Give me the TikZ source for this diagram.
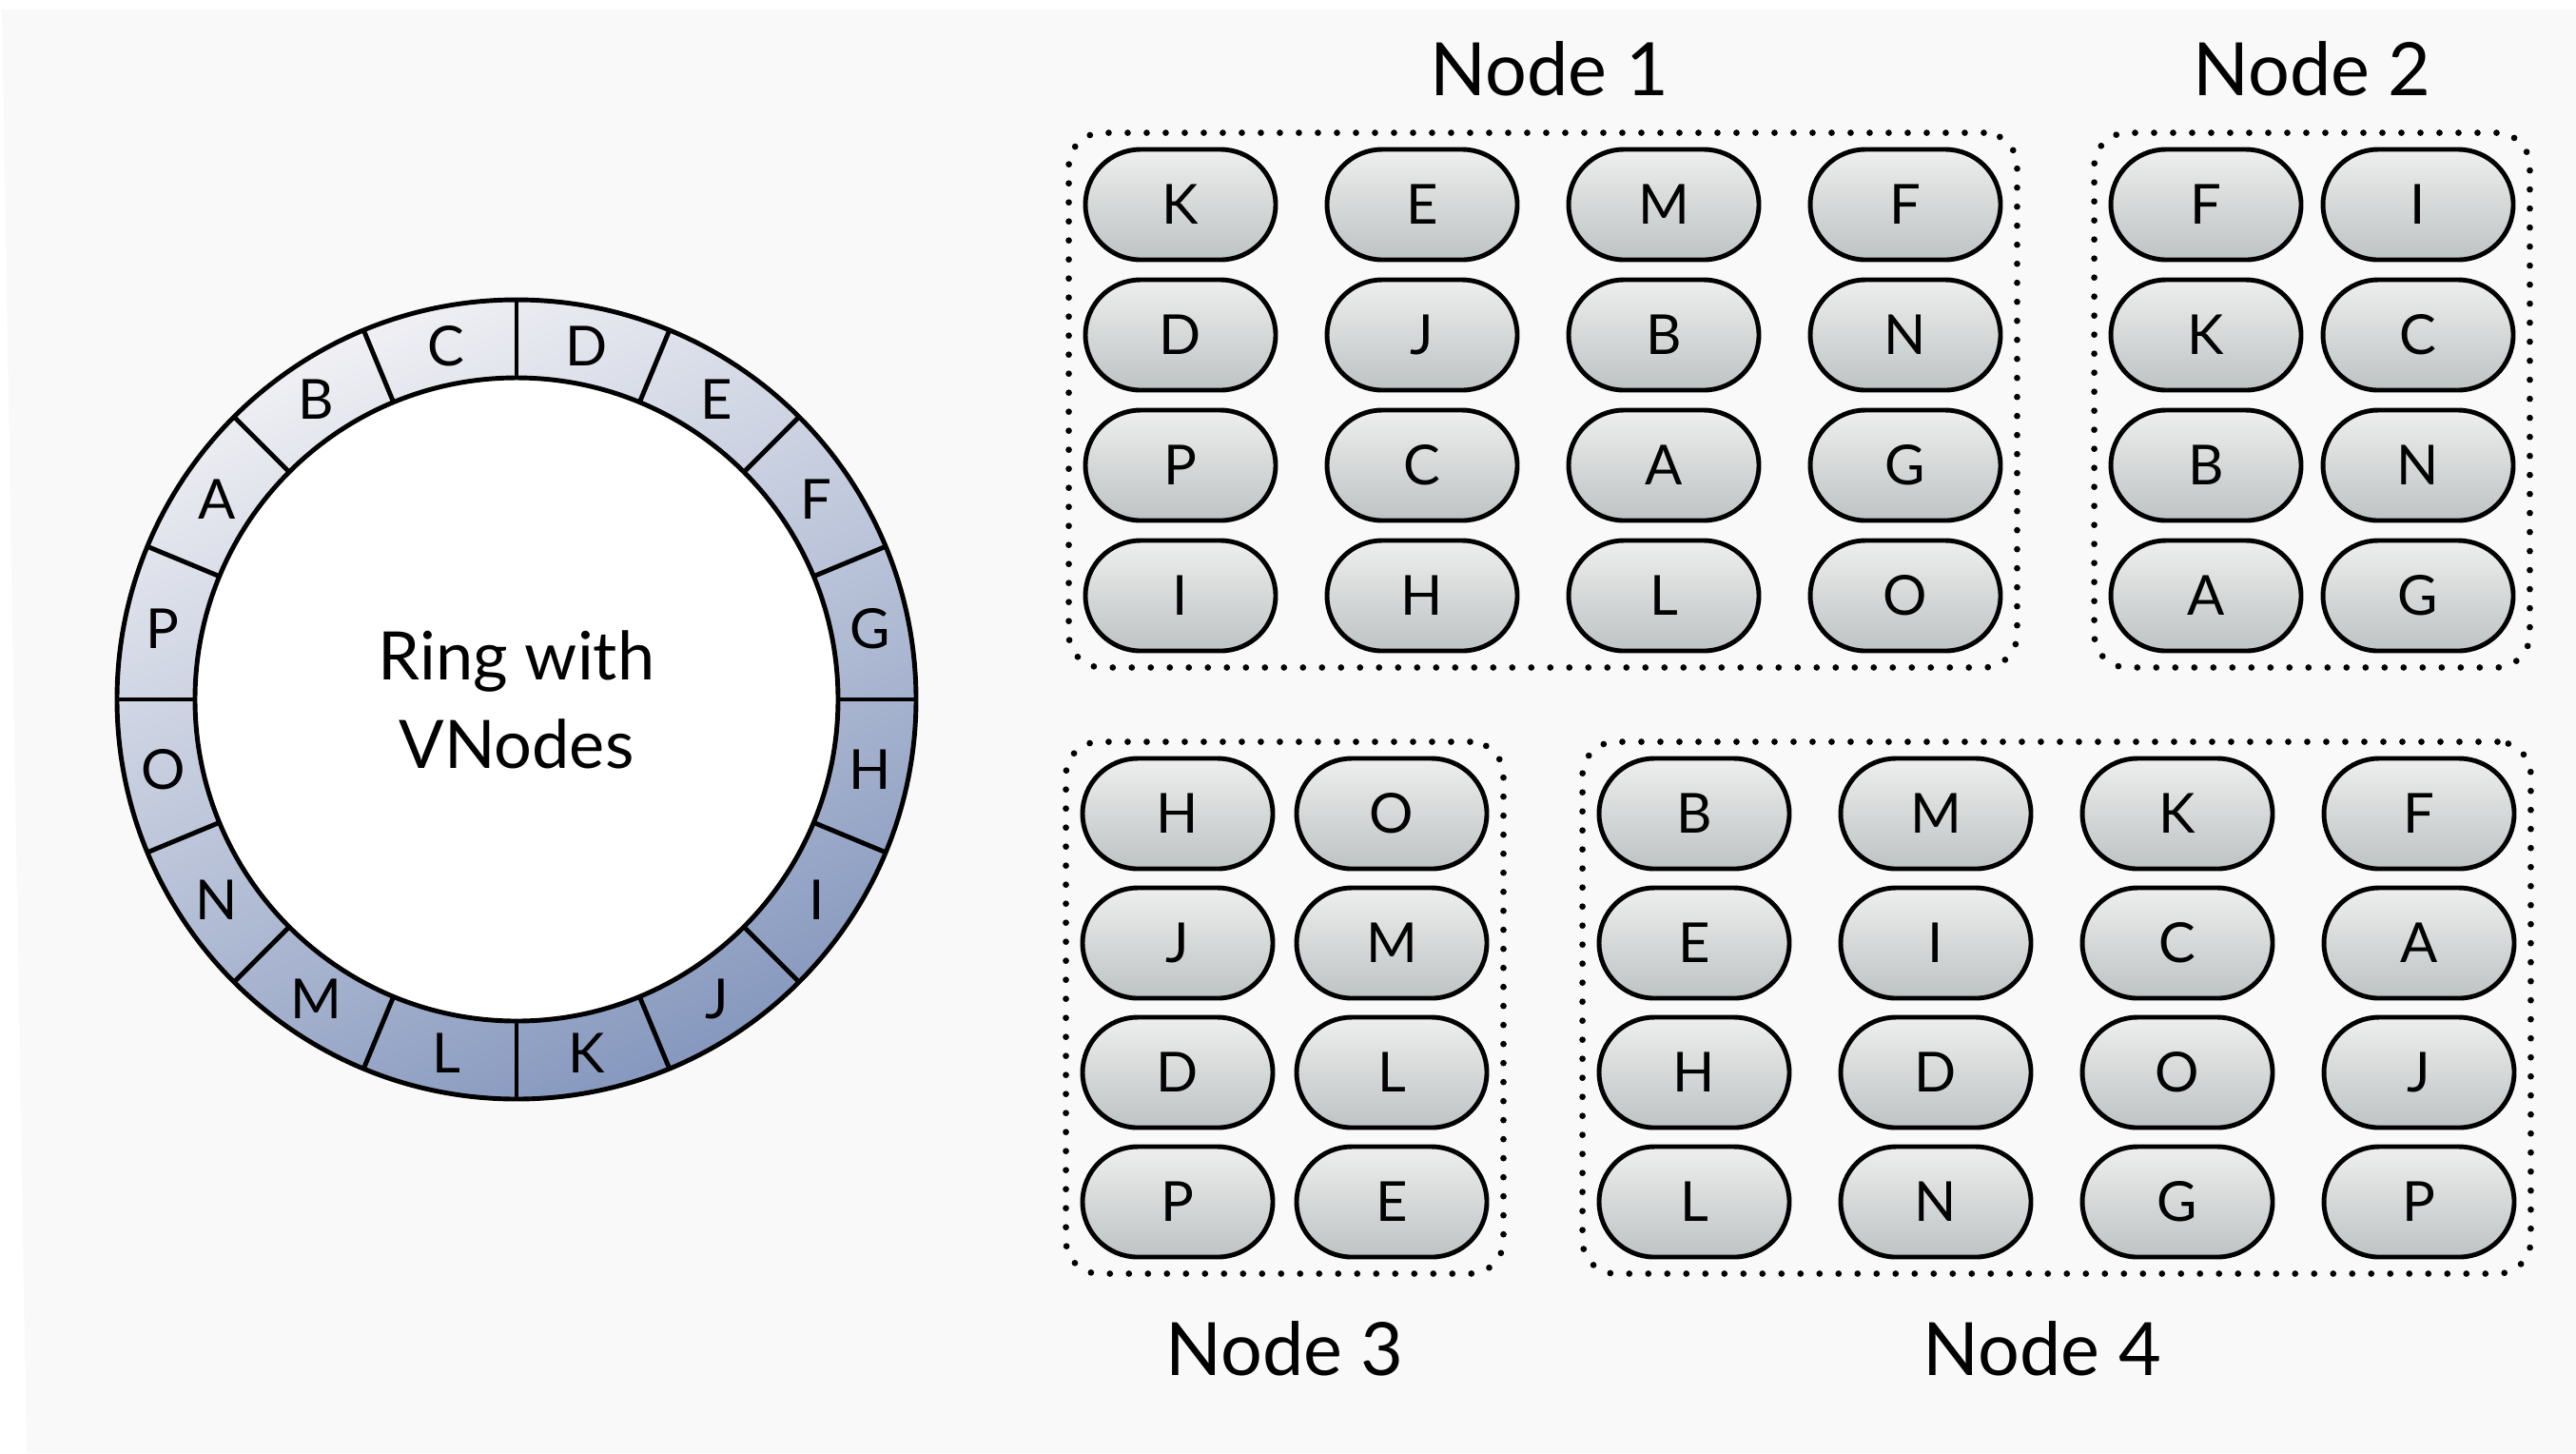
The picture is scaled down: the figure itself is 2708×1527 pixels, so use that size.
\documentclass[tikz,border=0pt]{standalone}
\usepackage{fontspec}
\setmainfont{Lato}
\usetikzlibrary{positioning,fit,shapes.misc}

\definecolor{bggray}{RGB}{249,249,249}
\definecolor{ringtop}{RGB}{240,240,244}
\definecolor{ringbot}{RGB}{134,152,190}
\definecolor{captop}{RGB}{238,238,238}
\definecolor{capbot}{RGB}{190,195,195}

\tikzset{
    vnode/.style={draw, line width=1.4pt, rounded rectangle, minimum width=20mm, minimum height=11.6mm, inner sep=0pt, top color=captop, bottom color=capbot, font=\fontsize{16.5}{20}\selectfont},
    ringlbl/.style={inner sep=0pt, font=\fontsize{16.5}{20}\selectfont},
    grp/.style={draw, line width=1.9pt, dash pattern=on 0pt off 2mm, line cap=round, rounded corners=3.5mm, inner sep=1.5mm},
    grplbl/.style={inner sep=0pt, font=\fontsize{22}{26}\selectfont}
}

\begin{document}
\begin{tikzpicture}[x=0.1mm, y=-0.1mm]
    \useasboundingbox (0,0) rectangle (2708,1527);
    \fill[white] (0,0) rectangle (2708,1527);
    \fill[bggray] (2,10) -- (2708,10) -- (2708,1527) -- (28,1527) -- cycle;

    % ring
    \coordinate (ringc) at (543,735);
    \path[top color=ringtop, bottom color=ringbot, shading angle=25, even odd rule] (ringc) circle (42mm) (ringc) circle (33.8mm);
    \fill[white] (ringc) circle (33.8mm);
    \draw[line width=1.4pt] (ringc) circle (42mm) (ringc) circle (33.8mm);
    \foreach \a in {0,22.5,...,337.5}
        \draw[line width=1.4pt] (ringc) ++(\a:33.8mm) -- ++(\a:8.2mm);
    \foreach \lbl [count=\i from 0] in {A,B,C,D,E,F,G,H,I,J,K,L,M,N,O,P}
        \path (ringc) ++(146.25-22.5*\i:37.9mm) node[ringlbl] (v\lbl) {\lbl};
    \node[align=center, font=\fontsize{20}{26.5}\selectfont] (ringtxt) at (ringc) {Ring with\\VNodes};

    % node 1
    \foreach \lbl [count=\i from 0] in {K,E,M,F,D,J,B,N,P,C,A,G,I,H,L,O} {
        \pgfmathtruncatemacro{\col}{mod(\i,4)}
        \pgfmathtruncatemacro{\row}{\i/4}
        \node[vnode] (n1-\i) at (1241+254*\col, 215+137*\row) {\lbl};
    }
    % node 2
    \foreach \lbl [count=\i from 0] in {F,I,K,C,B,N,A,G} {
        \pgfmathtruncatemacro{\col}{mod(\i,2)}
        \pgfmathtruncatemacro{\row}{\i/2}
        \node[vnode] (n2-\i) at (2319+223*\col, 215+137*\row) {\lbl};
    }
    % node 3
    \foreach \lbl [count=\i from 0] in {H,O,J,M,D,L,P,E} {
        \pgfmathtruncatemacro{\col}{mod(\i,2)}
        \pgfmathtruncatemacro{\row}{\i/2}
        \node[vnode] (n3-\i) at (1238+225*\col, 855+136*\row) {\lbl};
    }
    % node 4
    \foreach \lbl [count=\i from 0] in {B,M,K,F,E,I,C,A,H,D,O,J,L,N,G,P} {
        \pgfmathtruncatemacro{\col}{mod(\i,4)}
        \pgfmathtruncatemacro{\row}{\i/4}
        \node[vnode] (n4-\i) at (1781+254*\col, 855+136*\row) {\lbl};
    }

    \node[grp, fit=(n1-0)(n1-15)] (g1) {};
    \node[grp, fit=(n2-0)(n2-7)] (g2) {};
    \node[grp, fit=(n3-0)(n3-7)] (g3) {};
    \node[grp, fit=(n4-0)(n4-15)] (g4) {};

    \node[grplbl, above=3.4mm of g1, xshift=0.7mm] (l1) {Node 1};
    \node[grplbl, above=3.4mm of g2] (l2) {Node 2};
    \node[grplbl, below=4.6mm of g3] (l3) {Node 3};
    \node[grplbl, below=4.6mm of g4, xshift=-1.5mm] (l4) {Node 4};
\end{tikzpicture}
\end{document}
